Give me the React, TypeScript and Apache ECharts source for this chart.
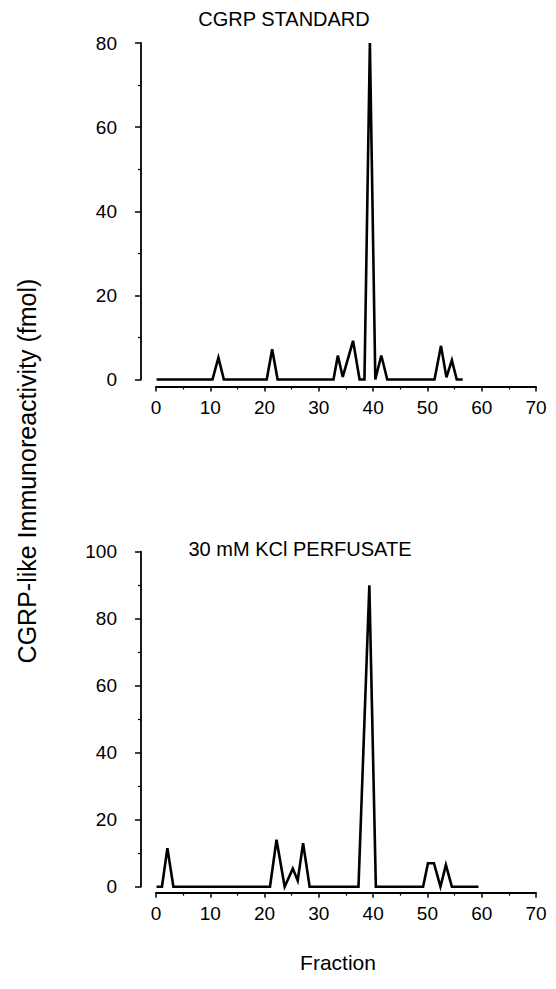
import React, { useEffect, useRef } from "react";
import * as echarts from "echarts";

const titleStd = "CGRP STANDARD";
const titleKcl = "30 mM KCl PERFUSATE";
const yAxisTitle = "CGRP-like Immunoreactivity (fmol)";
const xAxisTitle = "Fraction";

const fractionsStd = [0.1, 10.4, 11.5, 12.5, 20.4, 21.4, 22.4, 32.7, 33.5, 34.4, 36.3, 37.5, 38.4, 39.4, 40.4, 41.5, 42.6, 51.3, 52.5, 53.5, 54.5, 55.4, 56.5];
const valuesStd = [0, 0, 5.2, 0, 0, 7.2, 0, 0, 5.7, 0.6, 9.2, 0, 0, 80, 0, 5.7, 0, 0, 8, 0.5, 4.6, 0, 0];

const fractionsKcl = [0.1, 1.1, 2.1, 3.2, 21.0, 22.2, 23.7, 25.2, 26.1, 27.1, 28.3, 37.3, 39.3, 40.5, 49.2, 50.1, 51.2, 52.4, 53.4, 54.5, 59.4];
const valuesKcl = [0, 0, 11.5, 0, 0, 14, 0, 5.4, 1.8, 13, 0, 0, 90, 0, 0, 7, 7, 0, 6.5, 0, 0];

const FONT = "Liberation Sans, Arial, Helvetica, sans-serif";

export default function App() {
  const ref = useRef<HTMLDivElement>(null);
  useEffect(() => {
    if (!ref.current) return;
    const chart = echarts.init(ref.current, null, { renderer: "svg" });
    const axisCommon = {
      axisLine: { onZero: false, lineStyle: { color: "#000", width: 1.8 } },
      axisTick: { lineStyle: { color: "#000", width: 1.5 }, length: 6 },
      minorTick: { show: true, splitNumber: 2, length: 3, lineStyle: { color: "#000", width: 1.2 } },
      splitLine: { show: false },
      minorSplitLine: { show: false },
      axisLabel: { color: "#000", fontSize: 19, fontFamily: FONT },
    };
    const xAxis = (gridIndex: number, offset: number) => ({
      ...axisCommon,
      type: "value",
      gridIndex,
      min: 0,
      max: 70,
      interval: 10,
      position: "bottom",
      offset,
      axisTick: { ...axisCommon.axisTick, length: 5 },
      axisLabel: { ...axisCommon.axisLabel, margin: 11 },
    });
    const yAxis = (gridIndex: number, max: number) => ({
      ...axisCommon,
      type: "value",
      gridIndex,
      min: 0,
      max,
      interval: 20,
      position: "left",
      offset: 15,
      axisLabel: { ...axisCommon.axisLabel, margin: 24 },
    });
    const series = (idx: number, xs: number[], ys: number[]) => ({
      type: "line",
      xAxisIndex: idx,
      yAxisIndex: idx,
      data: xs.map((x, i) => [x, ys[i]]),
      symbol: "none",
      clip: false,
      lineStyle: { color: "#000", width: 2.6, join: "miter", miterLimit: 4 },
    });
    chart.setOption({
      animation: false,
      backgroundColor: "#fff",
      grid: [
        { left: 156, top: 43, width: 380, height: 336.5 },
        { left: 156, top: 551.7, width: 380, height: 335 },
      ],
      xAxis: [xAxis(0, 7), xAxis(1, 6)],
      yAxis: [yAxis(0, 80), yAxis(1, 100)],
      series: [series(0, fractionsStd, valuesStd), series(1, fractionsKcl, valuesKcl)],
      graphic: [
        {
          type: "text",
          x: 284,
          y: 19,
          style: { text: titleStd, fill: "#000", font: `20px ${FONT}`, textAlign: "center", textVerticalAlign: "middle" },
        },
        {
          type: "text",
          x: 300,
          y: 549,
          style: { text: titleKcl, fill: "#000", font: `20px ${FONT}`, textAlign: "center", textVerticalAlign: "middle" },
        },
        {
          type: "text",
          x: 27,
          y: 471,
          rotation: Math.PI / 2,
          style: { text: yAxisTitle, fill: "#000", font: `25px ${FONT}`, textAlign: "center", textVerticalAlign: "middle" },
        },
        {
          type: "text",
          x: 338,
          y: 962,
          style: { text: xAxisTitle, fill: "#000", font: `21px ${FONT}`, textAlign: "center", textVerticalAlign: "middle" },
        },
      ],
    });
    return () => chart.dispose();
  }, []);
  return <div ref={ref} style={{ position: "absolute", left: 0, top: 0, width: 556, height: 989 }} />;
}
